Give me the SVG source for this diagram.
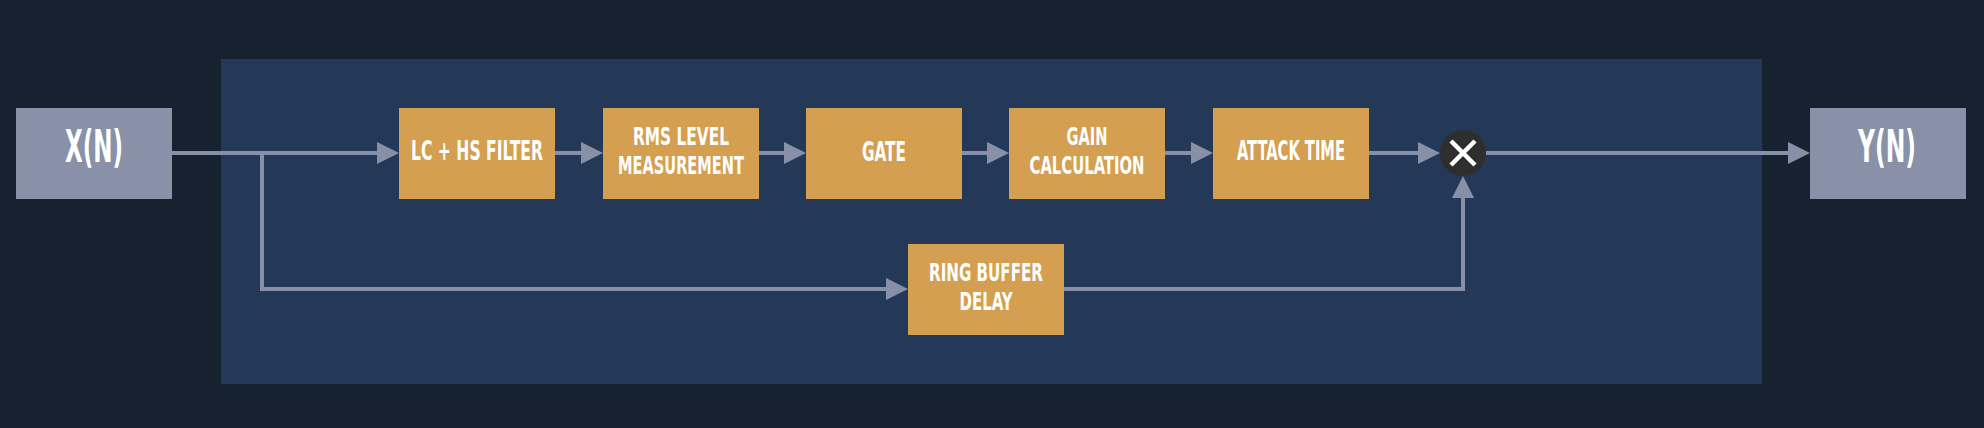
<svg xmlns="http://www.w3.org/2000/svg" width="1984" height="428" viewBox="0 0 1984 428">
<defs>
<style>
.bg{fill:#16222f}
.panel{fill:#243858}
.blk{fill:#d49f50}
.io{fill:#8891a8}
.t{font-family:"DejaVu Sans Condensed","DejaVu Sans",sans-serif;font-weight:bold;font-size:27px;fill:#ffffff;text-anchor:middle}
.t2{font-family:"DejaVu Sans Condensed","DejaVu Sans",sans-serif;font-weight:bold;font-size:25px;fill:#ffffff;text-anchor:middle}
.tio{font-family:"DejaVu Sans Condensed","DejaVu Sans",sans-serif;font-weight:bold;font-size:44px;fill:#ffffff;text-anchor:middle}
.c{fill:none;stroke:#8890a8;stroke-width:4;marker-end:url(#ah)}
</style>
<marker id="ah" markerUnits="userSpaceOnUse" markerWidth="22" markerHeight="22" refX="12" refY="11" orient="auto">
<path d="M0,0 L22,11 L0,22 Z" fill="#8890a8"/>
</marker>
</defs>
<rect class="bg" x="0" y="0" width="1984" height="428"/>
<rect id="panel" class="panel" x="221" y="59" width="1541" height="325"/>
<g id="connectors">
<path class="c" d="M172,153 H389"/>
<path class="c" d="M262,153 V289 H898"/>
<path class="c" d="M555,153 H593"/>
<path class="c" d="M759,153 H796"/>
<path class="c" d="M962,153 H999"/>
<path class="c" d="M1165,153 H1203"/>
<path class="c" d="M1369,153 H1430"/>
<path class="c" d="M1486,153 H1800"/>
<path class="c" d="M1064,289 H1463 V186"/>
</g>
<g id="xn">
<rect class="io" x="16" y="108" width="156" height="91"/>
<text class="tio" x="94" y="162" textLength="58" lengthAdjust="spacingAndGlyphs">X(N)</text>
</g>
<g id="lc">
<rect class="blk" x="399" y="108" width="156" height="91"/>
<text class="t" x="477" y="160" textLength="132" lengthAdjust="spacingAndGlyphs">LC + HS FILTER</text>
</g>
<g id="rms">
<rect class="blk" x="603" y="108" width="156" height="91"/>
<text class="t2" x="681" y="144.5" textLength="96" lengthAdjust="spacingAndGlyphs">RMS LEVEL</text>
<text class="t2" x="681" y="173.5" textLength="126" lengthAdjust="spacingAndGlyphs">MEASUREMENT</text>
</g>
<g id="gate">
<rect class="blk" x="806" y="108" width="156" height="91"/>
<text class="t" x="884" y="160.5" textLength="44" lengthAdjust="spacingAndGlyphs">GATE</text>
</g>
<g id="gain">
<rect class="blk" x="1009" y="108" width="156" height="91"/>
<text class="t2" x="1087" y="144.5" textLength="41" lengthAdjust="spacingAndGlyphs">GAIN</text>
<text class="t2" x="1087" y="173.5" textLength="115" lengthAdjust="spacingAndGlyphs">CALCULATION</text>
</g>
<g id="attack">
<rect class="blk" x="1213" y="108" width="156" height="91"/>
<text class="t" x="1291" y="160" textLength="108" lengthAdjust="spacingAndGlyphs">ATTACK TIME</text>
</g>
<g id="ring">
<rect class="blk" x="908" y="244" width="156" height="91"/>
<text class="t2" x="986" y="280.5" textLength="114" lengthAdjust="spacingAndGlyphs">RING BUFFER</text>
<text class="t2" x="986" y="309.5" textLength="53" lengthAdjust="spacingAndGlyphs">DELAY</text>
</g>
<g id="mult">
<circle cx="1463" cy="153" r="23" fill="#2e2e2e"/>
<path d="M1451,141 L1475,165 M1475,141 L1451,165" stroke="#ffffff" stroke-width="4.5" fill="none"/>
</g>
<g id="yn">
<rect class="io" x="1810" y="108" width="156" height="91"/>
<text class="tio" x="1887" y="162" textLength="58" lengthAdjust="spacingAndGlyphs">Y(N)</text>
</g>
</svg>
